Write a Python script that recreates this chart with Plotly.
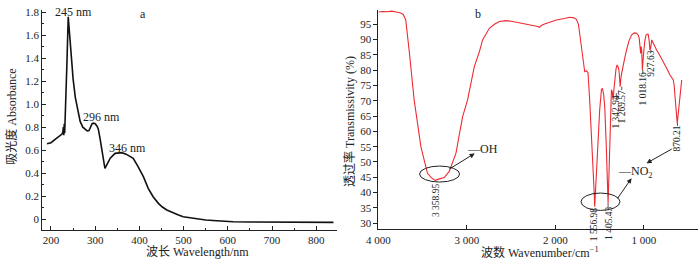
import plotly.graph_objects as go

# ---- Panel a: UV-Vis absorbance ----
wavelength = [191, 200, 210, 220, 225, 227, 228, 229, 230, 231, 232, 234, 236, 239, 242, 246, 250,
              255, 260, 266, 272, 278, 282, 286, 290, 293, 296, 300, 304, 307, 311, 315, 318, 322,
              326, 334, 345, 352, 360, 370, 378, 386, 397, 409, 420, 431, 443, 452, 462, 475, 487,
              499, 525, 550, 575, 612, 650, 700, 750, 800, 839]
absorbance = [0.655, 0.665, 0.695, 0.725, 0.74, 0.76, 0.80, 0.73, 0.83, 0.75, 0.86, 0.96, 1.35, 1.76,
              1.62, 1.40, 1.22, 1.06, 0.95, 0.85, 0.80, 0.775, 0.768, 0.77, 0.80, 0.83, 0.835, 0.83,
              0.81, 0.785, 0.70, 0.60, 0.51, 0.441, 0.47, 0.53, 0.572, 0.577, 0.578, 0.565, 0.55,
              0.529, 0.456, 0.369, 0.268, 0.195, 0.137, 0.105, 0.079, 0.055, 0.037, 0.021, 0.003,
              -0.008, -0.014, -0.023, -0.025, -0.026, -0.027, -0.028, -0.029]
a_yticks = [0, 0.2, 0.4, 0.6, 0.8, 1.0, 1.2, 1.4, 1.6, 1.8]
a_yticktext = ["0", "0.2", "0.4", "0.6", "0.8", "1.0", "1.2", "1.4", "1.6", "1.8"]
a_xticks = [200, 300, 400, 500, 600, 700, 800]
a_peaks = ["245 nm", "296 nm", "346 nm"]

# ---- Panel b: FTIR transmissivity ----
wavenumber = [4000, 3950, 3900, 3850, 3800, 3750, 3720, 3692, 3654, 3597, 3521, 3446, 3400, 3371,
              3359, 3320, 3257, 3200, 3124, 3080, 3049, 2993, 2917, 2860, 2823, 2747, 2690, 2633,
              2560, 2483, 2400, 2330, 2250, 2200, 2180, 2160, 2123, 2050, 1990, 1900, 1839, 1790,
              1763, 1740, 1726, 1700, 1688, 1669, 1650, 1632, 1613, 1594, 1575, 1562, 1556, 1545,
              1530, 1518, 1500, 1480, 1469, 1455, 1443, 1425, 1412, 1405, 1396, 1386, 1375, 1367,
              1358, 1348, 1338, 1329, 1315, 1303, 1290, 1280, 1269, 1258, 1246, 1220, 1196, 1170,
              1140, 1110, 1083, 1065, 1053, 1045, 1037, 1030, 1024, 1018, 1010, 1000, 990, 976,
              960, 951, 940, 932, 925, 912, 890, 856, 820, 781, 740, 705, 680, 668, 658, 649, 636,
              623, 612, 600, 585, 573]
transmissivity = [99.0, 99.2, 99.1, 99.3, 99.0, 98.7, 98.2, 96.4, 86.6, 70.3, 55.0, 46.3, 44.8,
                  44.2, 44.0, 44.4, 44.9, 46.9, 52.9, 60.0, 64.8, 70.3, 81.2, 86.0, 89.9, 93.7,
                  95.0, 95.9, 96.2, 95.9, 95.5, 95.1, 94.6, 94.3, 94.0, 94.6, 95.1, 95.9, 96.4,
                  96.9, 97.3, 97.1, 96.6, 95.0, 92.1, 86.0, 83.3, 79.5, 79.8, 79.2, 70.3, 60.0,
                  50.7, 40.0, 35.4, 42.0, 52.0, 59.4, 67.0, 73.6, 74.1, 72.0, 68.1, 55.0, 42.0,
                  36.5, 45.0, 57.2, 67.0, 73.6, 73.0, 70.3, 74.0, 77.9, 80.5, 81.7, 81.0, 79.5,
                  74.6, 78.0, 80.1, 83.5, 86.6, 89.5, 91.5, 92.2, 92.1, 91.5, 90.4, 87.0, 85.5,
                  87.7, 86.0, 80.1, 84.0, 86.6, 89.5, 91.5, 91.8, 91.7, 89.5, 86.6, 87.0, 89.9,
                  88.5, 86.6, 84.8, 82.8, 80.5, 78.4, 77.5, 76.8, 75.0, 72.5, 67.0, 62.7, 66.0,
                  70.3, 74.0, 76.8]
b_xticks = [4000, 3000, 2000, 1000]
b_xticktext = ["4 000", "3 000", "2 000", "1 000"]
b_yticks = [30, 35, 40, 45, 50, 55, 60, 65, 70, 75, 80, 85, 90, 95]
b_peak_labels = ["3 358.95", "1 556.98", "1 405.43", "1 342.94", "1 269.57", "1 018.16", "927.63", "870.21"]

FONT = "Liberation Serif, 'Times New Roman', 'Noto Sans CJK SC', serif"

fig = go.Figure()
fig.add_trace(go.Scatter(x=wavelength, y=absorbance, mode="lines",
                         line=dict(color="#111111", width=1.6), xaxis="x", yaxis="y",
                         showlegend=False, hoverinfo="skip"))
fig.add_trace(go.Scatter(x=wavenumber, y=transmissivity, mode="lines",
                         line=dict(color="#ee2a33", width=1.1), xaxis="x2", yaxis="y2",
                         showlegend=False, hoverinfo="skip"))

axis_common = dict(showgrid=False, zeroline=False, showline=True, linecolor="#222222",
                   linewidth=1, tickcolor="#222222", tickfont=dict(size=11, color="#222222"),
                   automargin=False)

fig.update_layout(
    width=700, height=265,
    margin=dict(l=0, r=0, t=0, b=0, pad=0),
    paper_bgcolor="white", plot_bgcolor="white",
    font=dict(family=FONT, size=11, color="#222222"),
    xaxis=dict(domain=[0.0604, 0.4814], range=[180.3, 847], anchor="y",
               tickmode="array", tickvals=a_xticks, ticks="inside", ticklen=4,
               minor=dict(ticks="inside", ticklen=2, tickmode="linear", tick0=150, dtick=50,
                          tickcolor="#222222"),
               **axis_common),
    yaxis=dict(domain=[0.1321, 0.9623], range=[-0.095, 1.82], anchor="x",
               tickmode="array", tickvals=a_yticks, ticktext=a_yticktext, ticks="inside",
               ticklen=4,
               minor=dict(ticks="inside", ticklen=2, tickmode="linear", tick0=0, dtick=0.1,
                          tickcolor="#222222"),
               **axis_common),
    xaxis2=dict(domain=[0.5407, 0.9971], range=[4000, 389], anchor="y2",
                tickmode="array", tickvals=b_xticks, ticktext=b_xticktext, ticks="inside",
                ticklen=4, **axis_common),
    yaxis2=dict(domain=[0.1347, 0.9626], range=[28.0, 99.7], anchor="x2",
                tickmode="array", tickvals=b_yticks, ticks="outside", ticklen=4,
                **axis_common),
)

C = dict(xanchor="center", yanchor="middle", showarrow=False)
ann = []
# axis titles
ann.append(dict(xref="paper", yref="paper", x=12/700, y=0.5596, text="吸光度 Absorbance",
                textangle=-90, font=dict(size=12), **C))
ann.append(dict(xref="paper", yref="paper", x=197.5/700, y=0.049, text="波长 Wavelength/nm",
                font=dict(size=12), **C))
ann.append(dict(xref="paper", yref="paper", x=349/700, y=0.5396,
                text="透过率 Transmissivity (%)", textangle=-90, font=dict(size=12), **C))
ann.append(dict(xref="paper", yref="paper", x=540/700, y=0.049,
                text="波数 Wavenumber/cm<sup>−1</sup>", font=dict(size=12), **C))

# panel a labels
ann.append(dict(xref="x", yref="y", x=408.8, y=1.785, text="a", font=dict(size=12), **C))
for txt, xx, yy in zip(a_peaks, [252, 314.7, 373.5], [1.805, 0.891, 0.621]):
    ann.append(dict(xref="x", yref="y", x=xx, y=yy, text=txt, font=dict(size=12), **C))

# panel b labels
ann.append(dict(xref="x2", yref="y2", x=2876, y=98.3, text="b", font=dict(size=12), **C))
ann.append(dict(xref="x2", yref="y2", x=2829, y=54.2, text="—OH", font=dict(size=12), **C))
ann.append(dict(xref="x2", yref="y2", x=1095, y=46.8, text="—NO<sub>2</sub>",
                font=dict(size=12), **C))

peak_x = [3355, 1555, 1402, 1312, 1250, 1012, 921, 621]
peak_y = [37.4, 29.6, 30.2, 66.6, 68.1, 74.0, 82.1, 57.8]
for txt, xx, yy in zip(b_peak_labels, peak_x, peak_y):
    ann.append(dict(xref="x2", yref="y2", x=xx, y=yy, text=txt, textangle=-90,
                    font=dict(size=9.5), **C))

# arrows
for (hx, hy, tx, ty) in [(2913, 52.8, 3216, 47.4), (1140, 44.7, 1310, 37.6),
                         (970, 49.6, 669, 54.5)]:
    ann.append(dict(xref="x2", yref="y2", x=hx, y=hy, ax=tx, ay=ty, axref="x2", ayref="y2",
                    text="", showarrow=True, arrowhead=2, arrowsize=1, arrowwidth=1,
                    arrowcolor="#222222"))

fig.update_layout(annotations=ann)

shapes = [
    dict(type="circle", xref="x2", yref="y2", x0=3536, x1=3083, y0=43.45, y1=48.67,
         line=dict(color="#222222", width=1)),
    dict(type="circle", xref="x2", yref="y2", x0=1711, x1=1270, y0=34.17, y1=39.85,
         line=dict(color="#222222", width=1)),
]
# short leader lines from dips to labels
for (lx, y0, y1) in [(1405, 36.5, 35.0), (1312, 70.3, 72.5), (1250, 74.6, 73.5),
                     (1012, 80.1, 79.0), (921, 86.6, 85.8), (621, 62.7, 61.8)]:
    shapes.append(dict(type="line", xref="x2", yref="y2", x0=lx, x1=lx, y0=y0, y1=y1,
                       line=dict(color="#222222", width=0.8)))
fig.update_layout(shapes=shapes)

fig.write_html("out.html", config={"displayModeBar": False},
               post_script="document.body.style.margin='0';document.body.style.overflow='hidden';")
